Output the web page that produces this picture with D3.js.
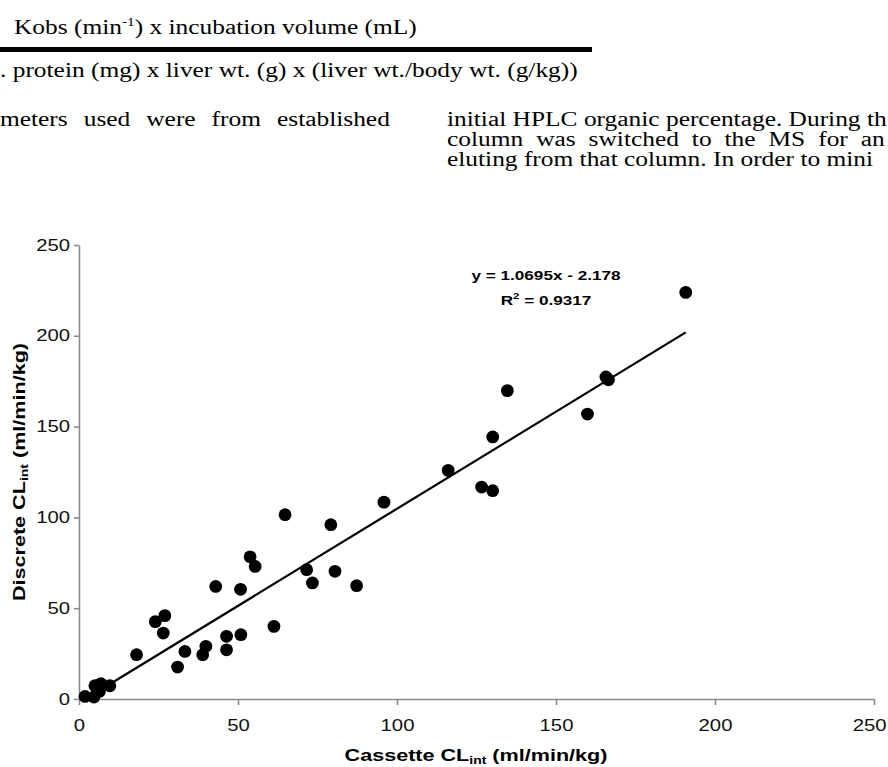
<!DOCTYPE html>
<html>
<head>
<meta charset="utf-8">
<script src="https://cdn.jsdelivr.net/npm/d3@7"></script>
<style>
  body { margin: 0; background: #fff; }
  svg { display: block; }
</style>
</head>
<body>
<div id="chart"></div>
<script>
// data: cassette vs discrete CLint (ml/min/kg)
const cassette = [1.9, 4.7, 5.0, 6.9, 6.4, 9.7, 18.1, 24.0, 27.0, 26.5, 31.0, 33.3, 38.9, 39.9,
    46.4, 46.4, 50.9, 43.0, 50.8, 53.8, 55.4, 61.3, 64.8, 71.6, 73.4, 79.2, 80.5, 87.3,
    95.9, 116.1, 126.6, 130.1, 130.1, 134.7, 159.9, 165.7, 166.5, 190.8];
const discrete = [1.4, 1.1, 7.3, 8.4, 4.2, 7.3, 24.4, 42.6, 45.9, 36.3, 17.6, 26.2, 24.4, 29.0,
    34.5, 27.1, 35.4, 62.0, 60.4, 78.3, 73.0, 40.0, 101.5, 71.2, 63.9, 96.0, 70.3, 62.4,
    108.4, 125.9, 116.7, 114.7, 144.3, 169.8, 156.9, 177.3, 175.8, 223.9];
const xTicks = [0, 50, 100, 150, 200, 250];
const yTicks = [0, 50, 100, 150, 200, 250];
const slope = 1.0695, intercept = -2.178;
const eqText = "y = 1.0695x - 2.178";
const r2Text = "0.9317";

const W = 888, H = 767;
const SX = 1.27;       // the scan is stretched sideways, so text is too
const SX_SERIF = 1.27;

const svg = d3.select("#chart").append("svg")
    .attr("width", W).attr("height", H)
    .style("background", "#fff");

// text helper: place at x,y and stretch horizontally
function label(x, y, opts = {}) {
    const t = svg.append("text")
        .attr("transform", `translate(${x},${y}) scale(${opts.sx || SX},1)`)
        .attr("text-anchor", opts.anchor || "start")
        .style("font-family", opts.family || "Liberation Sans, Arial, sans-serif")
        .style("font-size", (opts.size || 16) + "px")
        .style("font-weight", opts.bold ? "bold" : "normal")
        .attr("fill", "#000");
    if (opts.ws) t.style("word-spacing", opts.ws + "px");
    return t;
}

// ---- surrounding page text (scanned article) ----
const serif = "Liberation Serif, Times New Roman, serif";
const pg = {family: serif, size: 20, sx: SX_SERIF};

const k = label(14, 34, pg);
k.append("tspan").text("Kobs (min");
k.append("tspan").attr("dy", -8).style("font-size", "12px").text("-1");
k.append("tspan").attr("dy", 8).text(") x incubation volume (mL)");

svg.append("rect").attr("x", 0).attr("y", 47).attr("width", 592).attr("height", 5).attr("fill", "#000");

label(0, 77, pg).text(". protein (mg) x liver wt. (g) x (liver wt./body wt. (g/kg))");
label(0, 126, {...pg, ws: 7.6}).text("meters used were from established");
label(447, 126, pg).text("initial HPLC organic percentage. During th");
label(447, 146, {...pg, ws: 5.2}).text("column was switched to the MS for an");
label(447, 166, pg).text("eluting from that column. In order to mini");

// ---- chart ----
const x = d3.scaleLinear().domain([0, 250]).range([79, 874]);
const y = d3.scaleLinear().domain([0, 250]).range([699, 245]);

const axisColor = "#8a8a8a";

const gx = svg.append("g")
    .attr("transform", `translate(0,${y(0)})`)
    .call(d3.axisBottom(x).tickValues(xTicks).tickSize(6).tickSizeOuter(0).tickPadding(15));

const gy = svg.append("g")
    .attr("transform", `translate(${x(0)},0)`)
    .call(d3.axisLeft(y).tickValues(yTicks).tickSize(5).tickSizeOuter(0).tickPadding(4));

[gx, gy].forEach(g => {
    g.select(".domain").attr("stroke", axisColor).attr("stroke-width", 1.6);
    g.selectAll(".tick line").attr("stroke", axisColor).attr("stroke-width", 1.6);
    g.selectAll(".tick text")
        .attr("fill", "#111")
        .style("font-family", "Liberation Sans, Arial, sans-serif")
        .style("font-size", "16px")
        .each(function () {
            const el = d3.select(this);
            const tx = +el.attr("x") || 0;
            el.attr("x", tx / SX).attr("transform", `scale(${SX},1)`);
        });
});
// last x label sits right against the page edge
gx.selectAll(".tick text").filter(d => d === 250)
    .attr("text-anchor", "end").attr("x", (886 - x(250)) / SX);

// trend line over the range of the data
const xr = d3.extent(cassette);
svg.append("line")
    .attr("x1", x(xr[0])).attr("y1", y(slope * xr[0] + intercept))
    .attr("x2", x(xr[1])).attr("y2", y(slope * xr[1] + intercept))
    .attr("stroke", "#000")
    .attr("stroke-width", 2.2);

// points
svg.append("g")
    .selectAll("circle")
    .data(cassette.map((c, i) => [c, discrete[i]]))
    .join("circle")
    .attr("cx", d => x(d[0]))
    .attr("cy", d => y(d[1]))
    .attr("r", 6.4)
    .attr("fill", "#000");

// equation + R²
label(546, 280, {size: 13.5, bold: true, anchor: "middle"}).text(eqText);
const r2 = label(546, 305, {size: 13.5, bold: true, anchor: "middle"});
r2.append("tspan").text("R");
r2.append("tspan").attr("dy", -6).style("font-size", "9px").text("2");
r2.append("tspan").attr("dy", 6).text(" = " + r2Text);

// axis titles
const xt = label(476, 761, {size: 17, bold: true, anchor: "middle"});
xt.append("tspan").text("Cassette CL");
xt.append("tspan").attr("dy", 3).style("font-size", "11px").text("int");
xt.append("tspan").attr("dy", -3).text(" (ml/min/kg)");

const yt = label(25, 472, {size: 17, bold: true, anchor: "middle"});
yt.attr("transform", `translate(25,472) scale(1,${SX}) rotate(-90)`);
yt.append("tspan").text("Discrete CL");
yt.append("tspan").attr("dy", 3).style("font-size", "11px").text("int");
yt.append("tspan").attr("dy", -3).text(" (ml/min/kg)");
</script>
</body>
</html>
